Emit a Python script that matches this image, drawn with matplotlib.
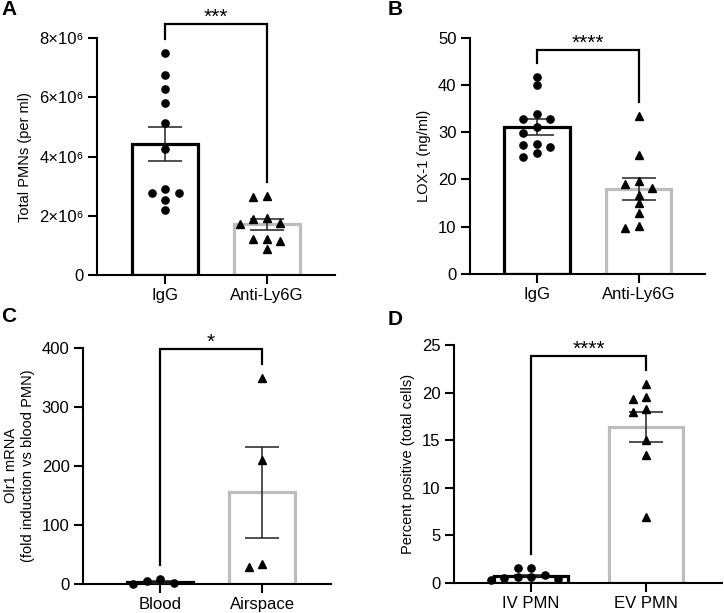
import numpy as np
import matplotlib
matplotlib.use("Agg")
import matplotlib.pyplot as plt
from matplotlib.ticker import FuncFormatter

plt.rcParams['font.family'] = ['Liberation Sans', 'DejaVu Sans']

# ---- data ----
# A: total PMNs per ml
a_groups = ['IgG', 'Anti-Ly6G']
a_igg = [7.49e6, 6.76e6, 6.27e6, 5.82e6, 5.15e6, 4.25e6, 2.9e6, 2.76e6, 2.76e6, 2.53e6, 2.2e6]
a_anti = [2.67e6, 2.65e6, 1.92e6, 1.90e6, 1.75e6, 1.73e6, 1.22e6, 1.20e6, 1.15e6, 0.88e6]
a_mean = [4.42e6, 1.71e6]
a_sem = [0.58e6, 0.19e6]

# B: LOX-1 (ng/ml)
b_groups = ['IgG', 'Anti-Ly6G']
b_igg = [41.6, 40.0, 33.8, 32.9, 32.7, 31.0, 29.8, 27.5, 27.3, 26.9, 25.5, 24.8]
b_anti = [33.5, 25.2, 19.7, 19.0, 18.3, 16.7, 15.0, 13.0, 10.2, 9.7]
b_mean = [31.1, 18.0]
b_sem = [1.6, 2.3]

# C: Olr1 mRNA fold induction
c_groups = ['Blood', 'Airspace']
c_blood = [0.2, 8.2, 1.0, 4.5]
c_air = [349, 210, 34, 29]
c_mean = [3.5, 155]
c_sem = [1.8, 77]

# D: percent positive
d_groups = ['IV PMN', 'EV PMN']
d_iv = [1.5, 1.5, 0.85, 0.6, 0.55, 0.45, 0.35, 0.3]
d_ev = [20.9, 19.5, 19.3, 18.3, 18.0, 15.0, 13.4, 6.9]
d_mean = [0.7, 16.4]
d_sem = [0.15, 1.6]

DARK = 'black'
LIGHT = '#bdbdbd'
W, H = 724, 613


def swarm(ax, vals, x0, near=7.0, step=13.5):
    """simple beeswarm offsets in pixels -> data units"""
    t = ax.transData
    xpx = t.transform((1, 0))[0] - t.transform((0, 0))[0]
    ypix = [t.transform((x0, v))[1] for v in vals]
    order = np.argsort(vals)[::-1]
    placed = []
    xs = np.zeros(len(vals))
    for i in order:
        y = ypix[i]
        k = 0
        while True:
            for cand in ([0] if k == 0 else [-k * step, k * step]):
                if all(abs(py - y) >= near or abs(px - cand) >= near for px, py in placed):
                    break
            else:
                k += 1
                continue
            break
        placed.append((cand, y))
        xs[i] = x0 + cand / xpx
    return xs


def panel(rect, groups, pts, means, sems, ylim, yticks, xlim, ylabel,
          bracket_y, stars, gap_px=14, fmt=None):
    l, t, r, b = rect
    ax = fig.add_axes([l / W, 1 - b / H, (r - l) / W, (b - t) / H])
    ax.set_xlim(*xlim)
    ax.set_ylim(*ylim)
    ax.set_yticks(yticks)
    if fmt is not None:
        ax.yaxis.set_major_formatter(FuncFormatter(fmt))
    ax.set_xticks([0, 1])
    ax.set_xticklabels(groups)
    for s in ['top', 'right']:
        ax.spines[s].set_visible(False)
    for s in ['left', 'bottom']:
        ax.spines[s].set_linewidth(1.5)
    ax.tick_params(width=1.5, length=6.5, labelsize=12, pad=3)
    ax.set_ylabel(ylabel, fontsize=10.5, labelpad=5)

    ax.bar([0, 1], means, width=0.64, color='white',
           edgecolor=[DARK, LIGHT], linewidth=2.3, zorder=2)
    ax.errorbar([0, 1], means, yerr=sems, fmt='none', ecolor='#222222',
                elinewidth=1.1, capsize=12, capthick=1.1, zorder=3)
    markers = ['o', '^']
    for i, vals in enumerate(pts):
        xs = swarm(ax, vals, i)
        ax.plot(xs, vals, linestyle='none', marker=markers[i],
                ms=5.2 if i == 0 else 5.6, color='black', zorder=4, clip_on=False)

    # significance bracket
    ypx = (ylim[1] - ylim[0]) / (b - t)
    leg0 = max(pts[0]) + gap_px * ypx
    leg1 = max(pts[1]) + gap_px * ypx
    ax.plot([0, 0, 1, 1], [leg0, bracket_y, bracket_y, leg1], color='black',
            lw=1.6, clip_on=False, solid_joinstyle='miter', zorder=5)
    ax.annotate(stars, (0.5, bracket_y), xytext=(0, 1), textcoords='offset points',
                ha='center', va='baseline', fontsize=15, annotation_clip=False)
    return ax


def sci(v, pos):
    if v == 0:
        return '0'
    return '%d×10⁶' % round(v / 1e6)


fig = plt.figure(figsize=(W / 100, H / 100), dpi=100)

panel((97, 38.3, 335, 275), a_groups, [a_igg, a_anti], a_mean, a_sem,
      (0, 8e6), [0, 2e6, 4e6, 6e6, 8e6], (-0.667, 1.667),
      'Total PMNs (per ml)', 8.48e6, '***', fmt=sci)
panel((469.7, 37.7, 705, 274), b_groups, [b_igg, b_anti], b_mean, b_sem,
      (0, 50), [0, 10, 20, 30, 40, 50], (-0.66, 1.65),
      'LOX-1 (ng/ml)', 47.4, '****')
panel((82.7, 347.7, 331, 583.7), c_groups, [c_blood, c_air], c_mean, c_sem,
      (0, 400), [0, 100, 200, 300, 400], (-0.758, 1.676),
      'Olr1 mRNA\n(fold induction vs blood PMN)', 397.8, '*')
panel((453.7, 345, 722, 582.7), d_groups, [d_iv, d_ev], d_mean, d_sem,
      (0, 25), [0, 5, 10, 15, 20, 25], (-0.672, 1.66),
      'Percent positive (total cells)', 23.85, '****')

for label, x, y in [('A', 1, 0), ('B', 388, 0), ('C', 1, 307), ('D', 388, 310)]:
    fig.text(x / W, 1 - y / H, label, fontsize=15, fontweight='bold', va='top', ha='left')

fig.savefig('out.png', dpi=100)
